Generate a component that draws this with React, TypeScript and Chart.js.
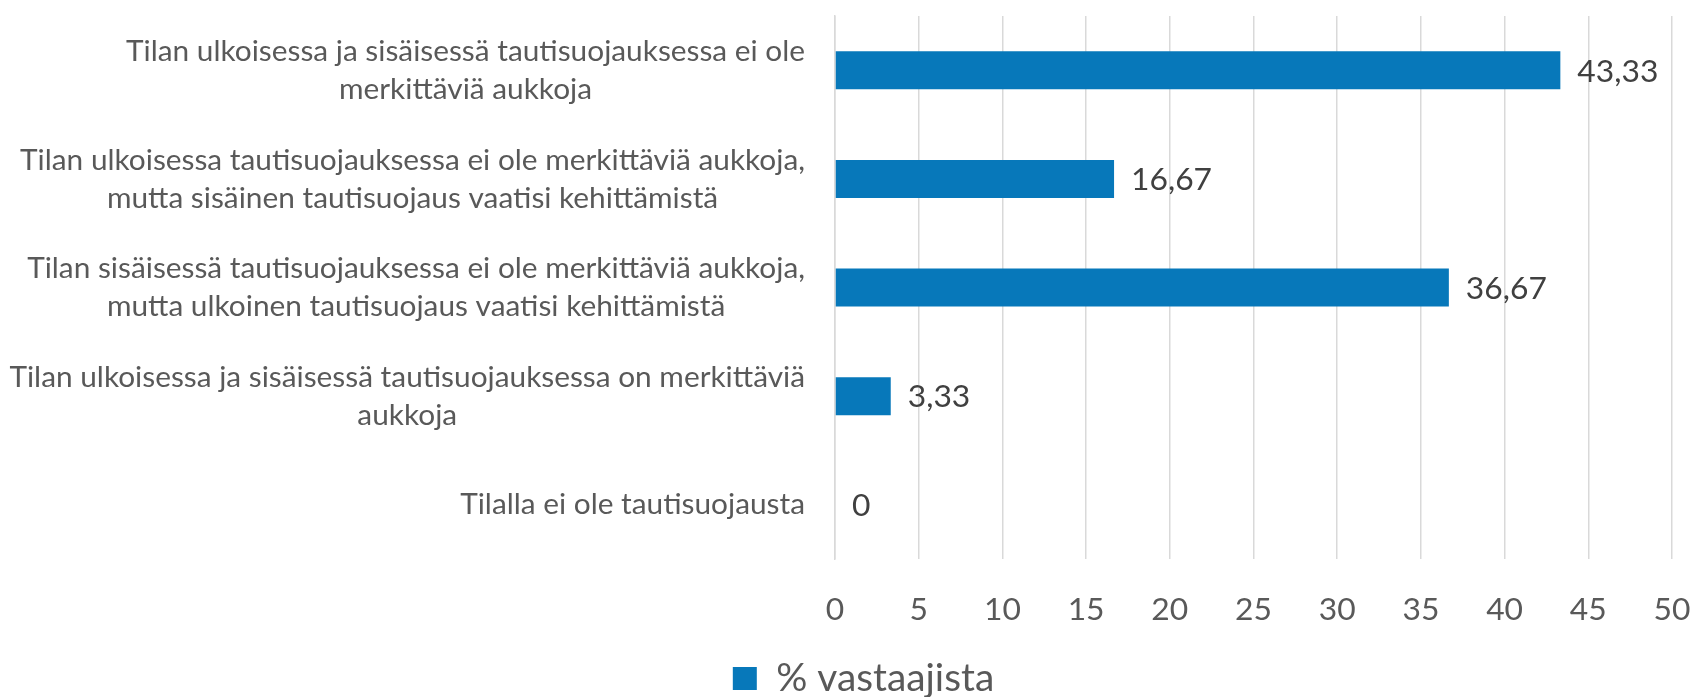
import React, { useEffect, useRef } from "react";
import { Chart, registerables } from "chart.js";

Chart.register(...registerables);

// ---------- data ----------
const categoryLines: string[][] = [
  ["Tilan ulkoisessa ja sisäisessä tautisuojauksessa ei ole", "merkittäviä aukkoja"],
  ["Tilan ulkoisessa tautisuojauksessa ei ole merkittäviä aukkoja,", "mutta sisäinen tautisuojaus vaatisi kehittämistä"],
  ["Tilan sisäisessä tautisuojauksessa ei ole merkittäviä aukkoja,", "mutta ulkoinen tautisuojaus vaatisi kehittämistä"],
  ["Tilan ulkoisessa ja sisäisessä tautisuojauksessa on merkittäviä", "aukkoja"],
  ["Tilalla ei ole tautisuojausta"],
];
const seriesName = "% vastaajista";
const seriesValues = [43.33, 16.67, 36.67, 3.33, 0];
const xMin = 0;
const xMax = 50;
const xStep = 5;

// ---------- style ----------
const W = 1694;
const H = 697;
const FAMILY = "Lato, 'Open Sans', 'DejaVu Sans', sans-serif";
const BAR_COLOR = "#0778BA";
const GRID_COLOR = "#d9d9d9";
const TEXT_COLOR = "#595959";
const VALUE_COLOR = "#404040";

function fitSize(text: string, target: number): number {
  const c = document.createElement("canvas").getContext("2d")!;
  c.font = `100px ${FAMILY}`;
  const w = c.measureText(text).width || 1;
  return (100 * target) / w;
}

function fmt(v: number): string {
  return Number.isInteger(v) ? String(v) : v.toFixed(2).replace(".", ",");
}

export default function App() {
  const ref = useRef<HTMLCanvasElement | null>(null);

  useEffect(() => {
    if (!ref.current) return;
    const catSize = fitSize(categoryLines[3][0], 796);
    const numSize = fitSize("43,33", 81);
    const legSize = fitSize(seriesName, 218);
    const catLineH = 38;

    const catLabelPlugin = {
      id: "catLabels",
      afterDraw(chart: any) {
        const ctx = chart.ctx;
        const y = chart.scales.y;
        ctx.save();
        ctx.font = `${catSize}px ${FAMILY}`;
        ctx.fillStyle = TEXT_COLOR;
        ctx.textAlign = "center";
        ctx.textBaseline = "middle";
        const right = chart.chartArea.left - 30;
        categoryLines.forEach((lines, i) => {
          const cy = y.getPixelForValue(i);
          const maxW = Math.max(...lines.map((l) => ctx.measureText(l).width));
          const cx = right - maxW / 2;
          lines.forEach((l, j) => {
            ctx.fillText(l, cx, cy + (j - (lines.length - 1) / 2) * catLineH);
          });
        });
        ctx.restore();
      },
    };

    const valueLabelPlugin = {
      id: "valueLabels",
      afterDatasetsDraw(chart: any) {
        const ctx = chart.ctx;
        const meta = chart.getDatasetMeta(0);
        ctx.save();
        ctx.font = `${numSize}px ${FAMILY}`;
        ctx.fillStyle = VALUE_COLOR;
        ctx.textAlign = "left";
        ctx.textBaseline = "middle";
        meta.data.forEach((bar: any, i: number) => {
          const p = bar.getProps(["x", "y"], true);
          ctx.fillText(fmt(seriesValues[i]), p.x + 17, p.y + 1);
        });
        ctx.restore();
      },
    };

    const legendShiftPlugin = {
      id: "legendShift",
      afterLayout(chart: any) {
        const lg = chart.legend;
        if (lg) {
          lg.top += 11;
          lg.bottom += 11;
        }
      },
    };

    const chart = new Chart(ref.current, {
      type: "bar",
      data: {
        labels: categoryLines.map((l) => l.join(" ")),
        datasets: [
          {
            label: seriesName,
            data: seriesValues,
            backgroundColor: BAR_COLOR,
            borderWidth: 0,
            barPercentage: 0.35,
            categoryPercentage: 1,
          },
        ],
      },
      options: {
        indexAxis: "y",
        animation: false,
        responsive: false,
        maintainAspectRatio: false,
        layout: { padding: { left: 55, right: 22, top: 16, bottom: 0 } },
        plugins: {
          tooltip: { enabled: false },
          legend: {
            position: "bottom",
            labels: {
              boxWidth: 24,
              boxHeight: 23,
              padding: 0,
              color: TEXT_COLOR,
              font: { family: FAMILY, size: legSize },
            },
          },
        },
        scales: {
          x: {
            type: "linear",
            min: xMin,
            max: xMax,
            ticks: {
              stepSize: xStep,
              color: TEXT_COLOR,
              font: { family: FAMILY, size: numSize },
              padding: 31,
              maxRotation: 0,
              autoSkip: false,
            },
            grid: { color: GRID_COLOR, lineWidth: 1.5, drawTicks: false },
            border: { display: false },
            afterFit: (s: any) => {
              s.height = 89;
              s.paddingRight = 0;
              s.paddingLeft = 0;
            },
          },
          y: {
            type: "category",
            ticks: { display: false },
            grid: { display: false, drawTicks: false },
            border: { display: true, color: GRID_COLOR, width: 1.5 },
            afterFit: (s: any) => {
              s.width = 780;
              s.paddingTop = 0;
              s.paddingBottom = 0;
            },
          },
        },
      } as any,
      plugins: [catLabelPlugin, valueLabelPlugin, legendShiftPlugin],
    });
    return () => chart.destroy();
  }, []);

  return (
    <div style={{ position: "absolute", left: 0, top: 0, width: W, height: H, background: "#fff" }}>
      <canvas ref={ref} width={W} height={H} />
    </div>
  );
}
